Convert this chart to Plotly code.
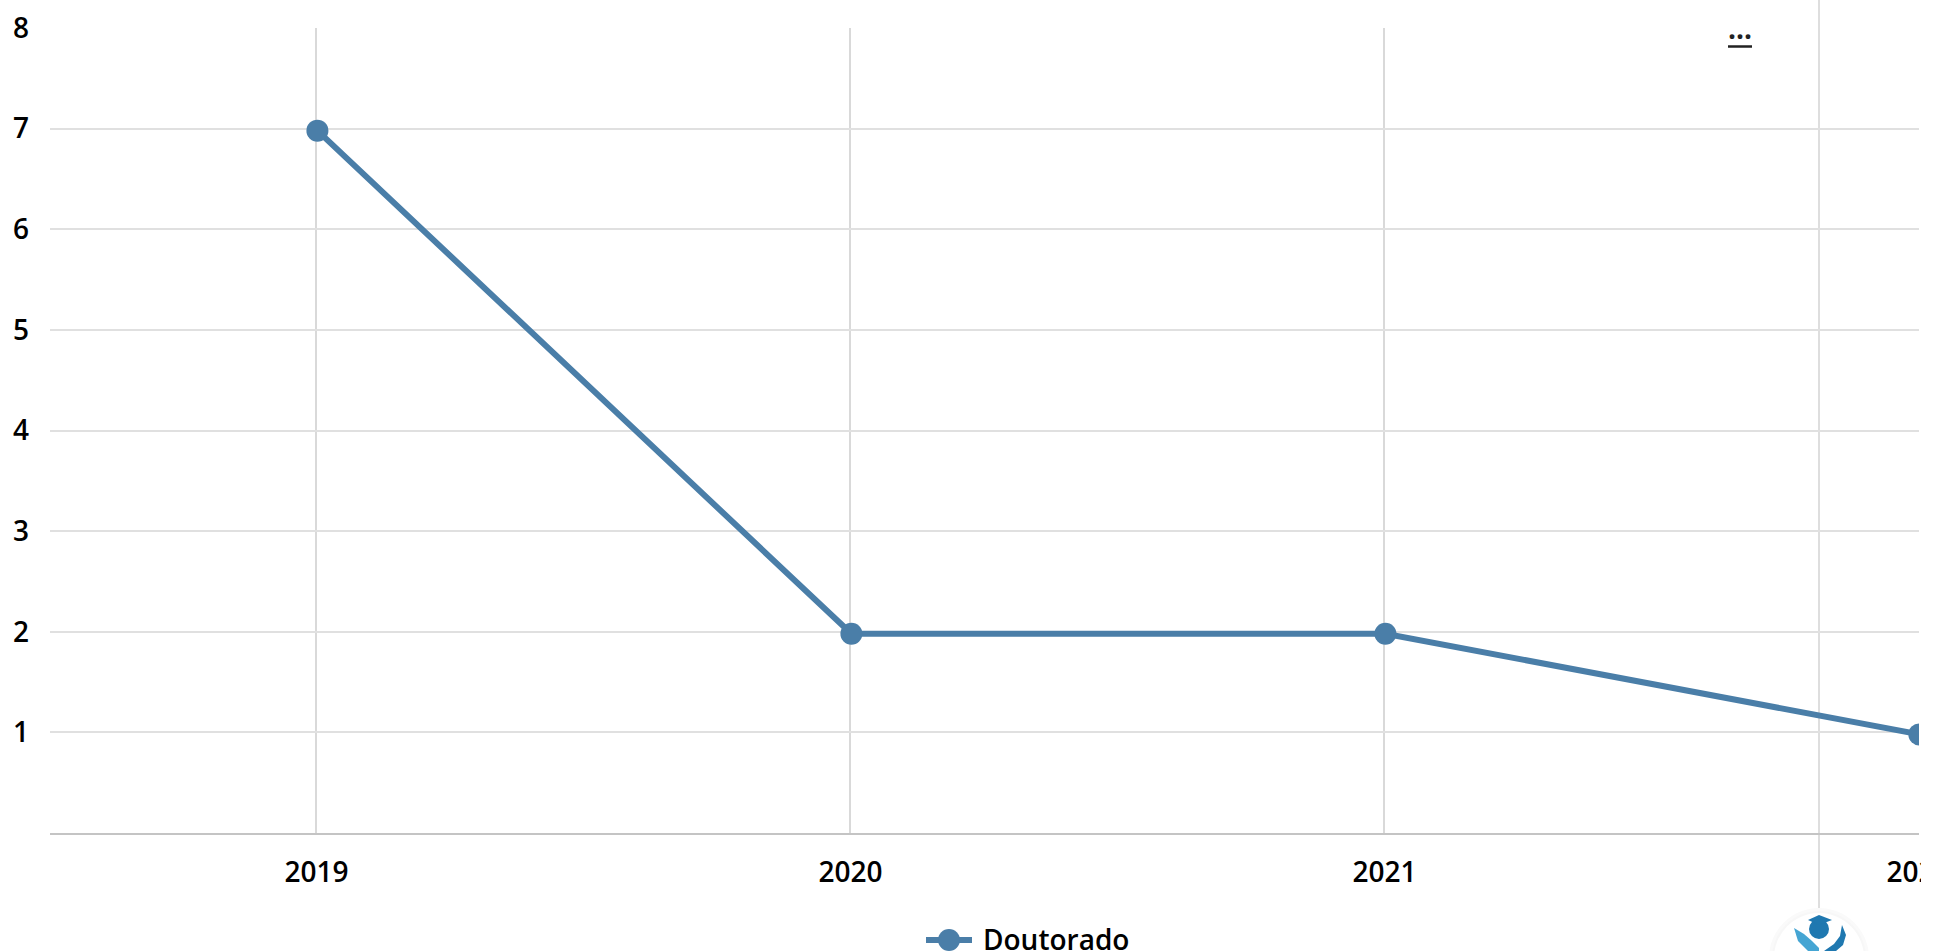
import plotly.graph_objects as go

years = ["2019", "2020", "2021", "2022"]
doutorado = [7, 2, 2, 1]
y_ticks = [1, 2, 3, 4, 5, 6, 7, 8]
series_name = "Doutorado"

BLUE = "#4a7ea8"
LOGO_DARK = "#1f78b0"
LOGO_LIGHT = "#45a5d3"
FONT = dict(family="Open Sans", size=28, color="#000000", weight=600)
W, H = 1945, 951
L, R, T, B = 50, 1919, 28, 833


def px(x):
    return (x - L) / (R - L)


def py(y):
    return (B - y) / (B - T)


def paper_shape(**kw):
    return dict(xref="paper", yref="paper", **kw)


def disc(cx, cy, r, fill):
    return paper_shape(type="circle", x0=px(cx - r), x1=px(cx + r), y0=py(cy - r), y1=py(cy + r),
                       fillcolor=fill, line=dict(width=0), layer="above")


def path(points, fill):
    d = "M " + " L ".join(f"{px(x)} {py(y)}" for x, y in points) + " Z"
    return paper_shape(type="path", path=d, fillcolor=fill, line=dict(width=0), layer="above")


fig = go.Figure()
# keeps the grid axes drawn
fig.add_trace(go.Scatter(
    x=years, y=doutorado, mode="lines", line=dict(color="rgba(0,0,0,0)", width=0),
    hoverinfo="skip", showlegend=False,
))
fig.add_trace(go.Scatter(
    x=years, y=doutorado, name=series_name, mode="lines+markers",
    xaxis="x2", yaxis="y2",
    line=dict(color=BLUE, width=6),
    marker=dict(color=BLUE, size=22, line=dict(width=0)),
    showlegend=False,
))

shapes = [
    # legend key
    paper_shape(type="line", x0=px(926), x1=px(972), y0=py(940), y1=py(940),
                line=dict(color=BLUE, width=6), layer="above"),
    disc(949, 940, 11, BLUE),
    # mask clipping the last tick label at the plot edge
    paper_shape(type="rect", x0=px(1921), x1=px(W), y0=py(840), y1=py(900),
                fillcolor="#ffffff", line=dict(width=0), layer="above"),
    # extra vertical line
    paper_shape(type="line", x0=px(1819), x1=px(1819), y0=py(0), y1=py(915),
                line=dict(color="#dedede", width=2), layer="below"),
    # white notch in the top grid line and the underline below the dots
    paper_shape(type="rect", x0=px(1710), x1=px(1770), y0=py(25), y1=py(31),
                fillcolor="#ffffff", line=dict(width=0), layer="above"),
    paper_shape(type="line", x0=px(1728), x1=px(1752), y0=py(46.5), y1=py(46.5),
                line=dict(color="#222222", width=2.5), layer="above"),
    # soft shadow and logo disc
    disc(1819, 958, 50, "#fafafa"),
    disc(1819, 958, 47, "#f7f7f7"),
    disc(1819, 958, 45, "#ffffff"),
    path([(1794, 928), (1804, 934), (1812, 941), (1819, 948), (1819, 951),
          (1808, 951), (1798, 941)], LOGO_LIGHT),
    path([(1842, 925), (1846, 935), (1843, 945), (1836, 951), (1824, 951),
          (1834, 944), (1840, 936)], LOGO_DARK),
    disc(1819, 929, 10, LOGO_DARK),
    path([(1808, 920), (1819, 915), (1832, 920), (1819, 925)], LOGO_DARK),
]

annotations = [
    dict(text=series_name, xref="paper", yref="paper", x=px(981), y=py(939), xanchor="left", yanchor="middle",
         showarrow=False, font=FONT),
    dict(text="...", xref="paper", yref="paper", x=px(1740), y=py(28), xanchor="center", yanchor="middle",
         showarrow=False, font=dict(family="Open Sans", size=28, color="#222222", weight=700)),
]

axis_x = dict(
    type="category", categoryorder="array", categoryarray=years,
    range=[-0.5 + 0.6 / 534.5, 3 + 0.6 / 534.5], automargin=False,
    showgrid=True, gridcolor="#d9d9d9", gridwidth=1.5, showline=True, linecolor="#c4c4c4", linewidth=2,
    ticks="", tickfont=FONT, fixedrange=True, zeroline=False, ticklabelstandoff=13,
)
axis_y = dict(
    range=[0, 8], tickvals=y_ticks, showgrid=True, gridcolor="#e0e0e0", gridwidth=2, automargin=False,
    showline=False, ticks="", tickfont=FONT, zeroline=False, fixedrange=True, ticklabelstandoff=20,
)
fig.update_layout(
    width=W, height=H, autosize=False,
    margin=dict(l=L, r=W - R, t=T, b=H - B),
    paper_bgcolor="#ffffff", plot_bgcolor="#ffffff",
    showlegend=False, font=dict(family="Open Sans"),
    xaxis=axis_x, yaxis=axis_y,
    # data layer sits a pixel or two off the grid, as in the reference
    xaxis2=dict(overlaying="x", type="category", categoryorder="array", categoryarray=years,
                range=[-0.5 - 0.4 / 534.5, 3 - 0.4 / 534.5], visible=False, fixedrange=True),
    yaxis2=dict(overlaying="y", range=[0.02, 8.02], visible=False, fixedrange=True),
    shapes=shapes, annotations=annotations,
)
fig.write_html(
    "out.html",
    config=dict(displayModeBar=False),
    post_script="document.body.style.margin='0';document.body.style.overflow='hidden';",
)
